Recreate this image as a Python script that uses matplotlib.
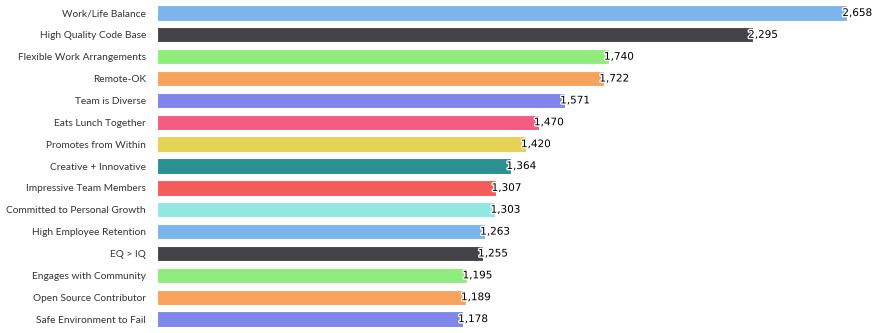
import matplotlib
matplotlib.use("Agg")
import matplotlib.pyplot as plt
import matplotlib.patheffects as pe

categories = ["Work/Life Balance", "High Quality Code Base", "Flexible Work Arrangements",
              "Remote-OK", "Team is Diverse", "Eats Lunch Together", "Promotes from Within",
              "Creative + Innovative", "Impressive Team Members", "Committed to Personal Growth",
              "High Employee Retention", "EQ > IQ", "Engages with Community",
              "Open Source Contributor", "Safe Environment to Fail"]
values = [2658, 2295, 1740, 1722, 1571, 1470, 1420, 1364, 1307, 1303, 1263, 1255, 1195, 1189, 1178]
palette = ["#7cb5ec", "#434348", "#90ed7d", "#f7a35c", "#8085e9", "#f15c80", "#e4d354",
           "#2b908f", "#f45b5b", "#91e8e1"]
colors = [palette[i % len(palette)] for i in range(len(values))]

fig = plt.figure(figsize=(8.8, 3.33), dpi=100)
ax = fig.add_axes([157/880, 3/333, 1 - 157/880, 328/333])
y = list(range(len(values)))
ax.barh(y, values, height=0.7, color=colors, edgecolor="white", linewidth=0.8)
ax.set_ylim(len(values) - 0.5, -0.5)
ax.set_xlim(0, 2785)
ax.set_yticks(y)
ax.set_yticklabels(categories, fontsize=7.3, color="#333333", family=["Lato", "DejaVu Sans"])
ax.tick_params(axis="y", length=0, pad=8)
ax.set_xticks([])
for s in ax.spines.values():
    s.set_visible(False)
for yi, v in zip(y, values):
    ax.text(v - 18, yi, f"{v:,}", va="center", ha="left", fontsize=7.5, color="black",
            family="DejaVu Sans",
            path_effects=[pe.withStroke(linewidth=2, foreground="white")])
fig.savefig("out.png", dpi=100)
